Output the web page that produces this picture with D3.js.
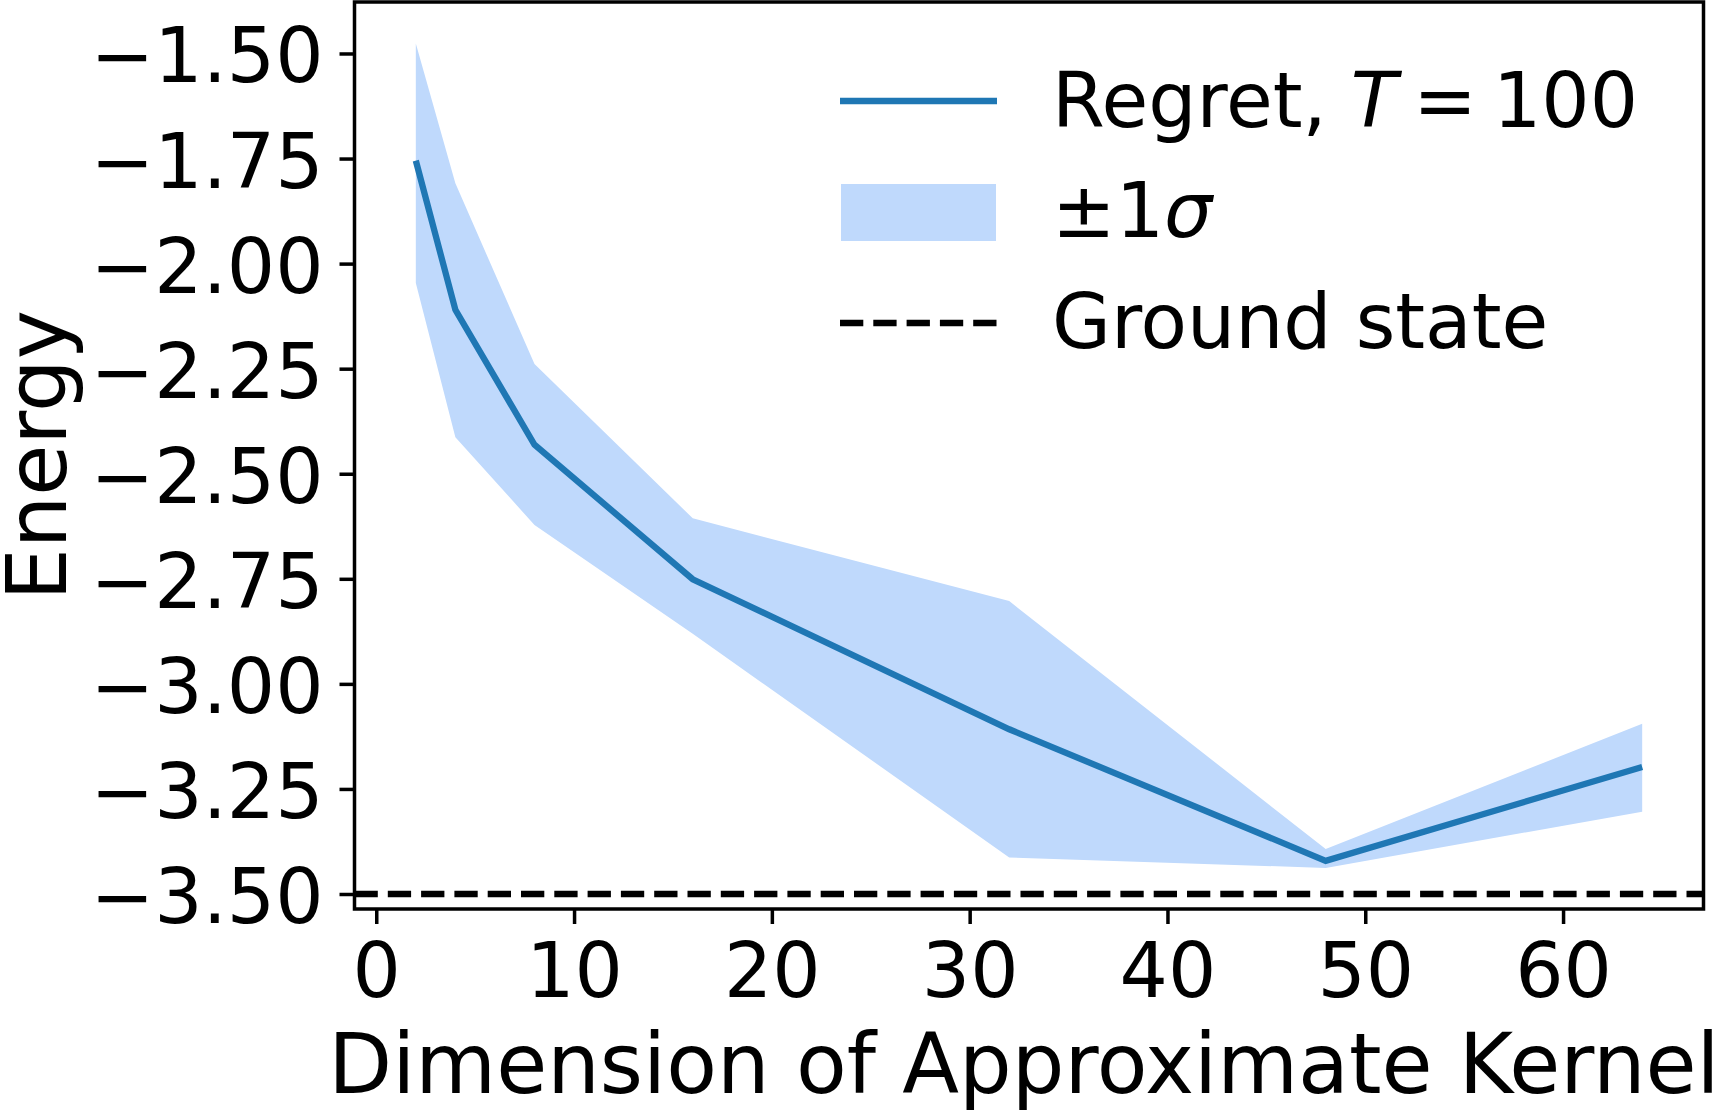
<!DOCTYPE html>
<html>
<head>
<meta charset="utf-8">
<script src="https://cdn.jsdelivr.net/npm/d3@7"></script>
<style>
  body { margin: 0; background: #fff; }
  svg { display: block; font-family: "DejaVu Sans", sans-serif; }
</style>
</head>
<body>
<div id="chart"></div>
<script>
// data
const dims = [2, 4, 8, 16, 32, 48, 64];
const meanEnergy = [-1.755, -2.110, -2.431, -2.751, -3.108, -3.421, -3.198];
const upperEnergy = [-1.476, -1.809, -2.239, -2.606, -2.803, -3.393, -3.095];
const lowerEnergy = [-2.046, -2.413, -2.622, -2.881, -3.413, -3.438, -3.304];
const groundState = -3.5;
const xTicks = [0, 10, 20, 30, 40, 50, 60];
const yTicks = [-1.5, -1.75, -2.0, -2.25, -2.5, -2.75, -3.0, -3.25, -3.5];

const width = 1720, height = 1110;
const plotLeft = 354.5, plotRight = 1703.5, plotTop = 2, plotBottom = 909;
const blue = "#1f77b4", bandColor = "#bfd9fc";
const tickFont = 76, labelFont = 83;

const svg = d3.select("#chart").append("svg")
  .attr("width", width)
  .attr("height", height);

const x = d3.scaleLinear().domain([-1.1, 67.1]).range([plotLeft, plotRight]);
const y = d3.scaleLinear().domain([-3.5357, -1.3775]).range([plotBottom, plotTop]);

const rows = dims.map((d, i) => ({ d, m: meanEnergy[i], hi: upperEnergy[i], lo: lowerEnergy[i] }));

// +-1 sigma band
svg.append("path")
  .datum(rows)
  .attr("fill", bandColor)
  .attr("d", d3.area().x(r => x(r.d)).y0(r => y(r.lo)).y1(r => y(r.hi)));

// mean line
svg.append("path")
  .datum(rows)
  .attr("fill", "none")
  .attr("stroke", blue)
  .attr("stroke-width", 6.3)
  .attr("d", d3.line().x(r => x(r.d)).y(r => y(r.m)));

// ground state
svg.append("line")
  .attr("x1", plotLeft).attr("x2", plotRight)
  .attr("y1", y(groundState)).attr("y2", y(groundState))
  .attr("stroke", "#000")
  .attr("stroke-width", 6.3)
  .attr("stroke-dasharray", "23.3,10");

// axes
const xAxis = svg.append("g")
  .attr("transform", "translate(0," + plotBottom + ")")
  .call(d3.axisBottom(x).tickValues(xTicks).tickFormat(d3.format("d")).tickSize(15).tickPadding(19).tickSizeOuter(0));
const yAxis = svg.append("g")
  .attr("transform", "translate(" + plotLeft + ",0)")
  .call(d3.axisLeft(y).tickValues(yTicks).tickFormat(d3.format(".2f")).tickSize(15).tickPadding(16).tickSizeOuter(0));

[xAxis, yAxis].forEach(g => {
  g.select(".domain").remove();
  g.selectAll(".tick line").attr("stroke", "#000").attr("stroke-width", 3.5);
  g.selectAll(".tick text")
    .attr("fill", "#000")
    .style("font-size", tickFont + "px")
    .style("font-family", "DejaVu Sans");
});
yAxis.selectAll(".tick text").attr("dy", "0.375em");

// frame
svg.append("rect")
  .attr("x", plotLeft).attr("y", plotTop)
  .attr("width", plotRight - plotLeft).attr("height", plotBottom - plotTop)
  .attr("fill", "none")
  .attr("stroke", "#000")
  .attr("stroke-width", 3.5);

// axis labels
svg.append("text")
  .attr("x", 1024)
  .attr("y", 1093)
  .attr("text-anchor", "middle")
  .style("font-size", labelFont + "px")
  .text("Dimension of Approximate Kernel");

svg.append("text")
  .attr("transform", "translate(66," + (plotTop + plotBottom) / 2 + ") rotate(-90)")
  .attr("text-anchor", "middle")
  .style("font-size", labelFont + "px")
  .text("Energy");

// legend
const lg = svg.append("g");
lg.append("line")
  .attr("x1", 840).attr("x2", 997).attr("y1", 101).attr("y2", 101)
  .attr("stroke", blue).attr("stroke-width", 6.3);
lg.append("rect")
  .attr("x", 841).attr("y", 184).attr("width", 155).attr("height", 57)
  .attr("fill", bandColor);
lg.append("line")
  .attr("x1", 840).attr("x2", 997).attr("y1", 323).attr("y2", 323)
  .attr("stroke", "#000").attr("stroke-width", 6.3)
  .attr("stroke-dasharray", "23.3,10");

const legendX = 1052;
const t1 = lg.append("text").attr("x", legendX).attr("y", 127).style("font-size", tickFont + "px");
t1.append("tspan").text("Regret, ");
t1.append("tspan").style("font-style", "italic").text("T");
t1.append("tspan").attr("dx", 16).text("=");
t1.append("tspan").attr("dx", 16).text("100");

const t2 = lg.append("text").attr("x", legendX).attr("y", 237).style("font-size", tickFont + "px");
t2.append("tspan").text("±1");
t2.append("tspan").style("font-style", "italic").text("σ");

lg.append("text").attr("x", legendX).attr("y", 348).style("font-size", tickFont + "px")
  .text("Ground state");
</script>
</body>
</html>
